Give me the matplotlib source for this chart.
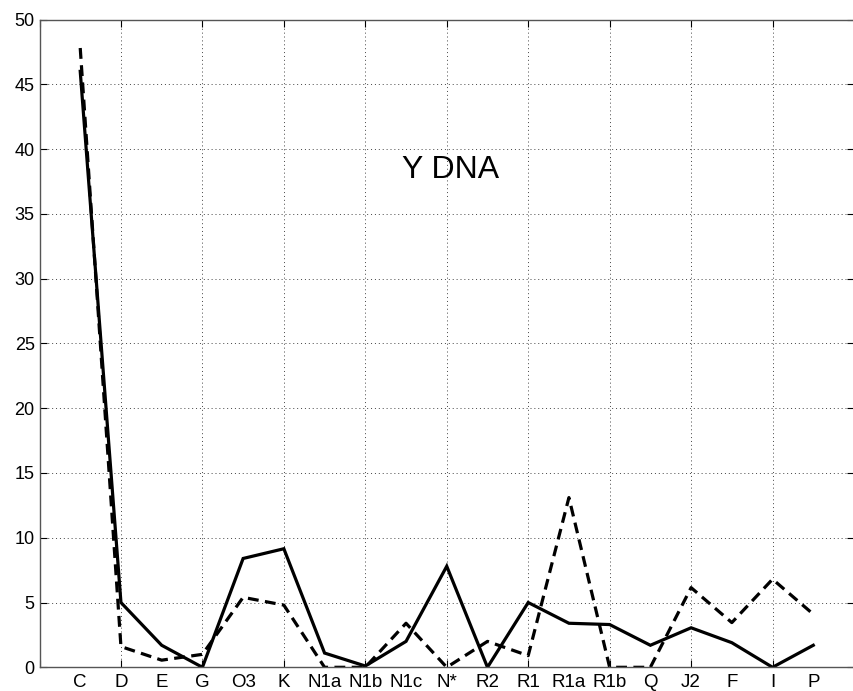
import numpy as np
import matplotlib
matplotlib.use("Agg")
import matplotlib.pyplot as plt

plt.rcParams['font.family'] = ['Liberation Sans', 'DejaVu Sans']

haplogroups = ["C", "D", "E", "G", "O3", "K", "N1a", "N1b", "N1c", "N*",
               "R2", "R1", "R1a", "R1b", "Q", "J2", "F", "I", "P"]
solid_vals  = [46.0, 5.0, 1.7, 0.0, 8.4, 9.15, 1.1, 0.1, 2.0, 7.8,
               0.0, 5.0, 3.4, 3.3, 1.7, 3.05, 1.9, 0.0, 1.7]
dashed_vals = [47.8, 1.6, 0.55, 1.0, 5.4, 4.8, 0.0, 0.0, 3.4, 0.0,
               2.0, 0.9, 13.1, 0.0, 0.0, 6.15, 3.45, 6.8, 4.1]
y_ticks = np.arange(0, 51, 5)

x = np.arange(1, len(haplogroups) + 1)

fig = plt.figure(figsize=(8.54, 6.91), dpi=100)
ax = fig.add_axes([39.5 / 854, 23.7 / 691, 1 - 39.5 / 854, (667.3 - 19.5) / 691])

ax.plot(x, solid_vals, color="black", lw=2.3, solid_joinstyle="miter")
ax.plot(x, dashed_vals, color="black", lw=2.3, ls=(0, (3.4, 2.0)))

ax.set_xlim(0, 20)
ax.set_ylim(0, 50)
ax.set_yticks(y_ticks)

# category labels on major ticks, grid/tick marks every 2 on minor ticks
ax.xaxis.remove_overlapping_locs = False
ax.set_xticks(x)
ax.set_xticklabels(haplogroups)
ax.set_xticks(np.arange(0, 21, 2), minor=True)
ax.tick_params(axis="x", which="major", length=0, pad=5, labelsize=13.5)
ax.tick_params(axis="x", which="minor", direction="in", length=5,
               top=True, width=0.8)
ax.tick_params(axis="y", which="major", direction="in", length=5,
               right=True, labelsize=13, width=0.8)
ax.grid(True, axis="y", which="major", ls=(0, (1, 3)), color="#444444", lw=0.7)
ax.grid(True, axis="x", which="minor", ls=(0, (1, 3)), color="#444444", lw=0.7)
ax.grid(False, axis="x", which="major")

for s in ax.spines.values():
    s.set_color("#555555")
    s.set_linewidth(1.0)

ax.text(10.09, 38.4, "Y DNA", fontsize=23, ha="center", va="center")

fig.savefig("out.png", dpi=100)
